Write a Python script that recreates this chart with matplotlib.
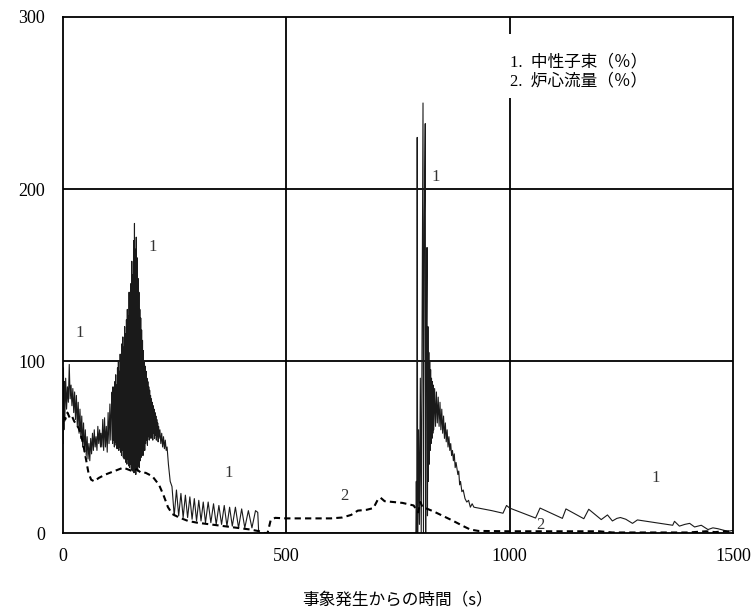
import matplotlib
matplotlib.use("Agg")
import matplotlib.pyplot as plt
from matplotlib.patches import Rectangle

# neutron flux (%): time (s), value
early_t = [0, 1, 2, 3, 4, 6, 8, 10, 12, 14, 16, 18, 20, 22, 24, 26, 28, 30, 32, 34,
           36, 38, 40, 42, 44, 46, 48, 50, 52, 54, 56, 58, 60, 62, 64, 66, 68, 70, 72, 74,
           76, 78, 80, 82, 84, 85, 87, 89, 91, 93, 95, 97, 99, 101, 103, 105, 107, 109]
early_v = [52, 96, 60, 88, 65, 90, 72, 85, 76, 98, 78, 86, 74, 84, 70, 82, 66, 80, 62, 76,
           58, 72, 55, 68, 50, 64, 47, 60, 45, 56, 43, 52, 42, 55, 46, 58, 48, 60, 50, 56,
           48, 62, 52, 60, 50, 58, 50, 66, 48, 67, 50, 62, 47, 70, 52, 75, 54, 80]

burst_t = [110, 111, 112, 113, 114, 115, 116, 117, 118, 119, 120, 121, 122, 123, 124,
           125, 126, 127, 128, 129, 130, 131, 132, 133, 134, 135, 136, 137, 138, 139,
           140, 141, 142, 143, 144, 145, 146, 147, 148, 149, 150, 151, 152, 153, 154,
           155, 156, 157, 158, 159, 160, 161, 162, 163, 164, 165, 166, 167, 168, 169,
           170, 171, 172, 173, 174, 175, 176, 177, 178, 179, 180, 181, 182, 183, 184,
           185, 186, 187, 188, 189, 190, 191, 192, 193, 194, 195, 196, 197, 198, 199,
           200, 201, 202, 203, 204, 205, 206, 207, 208, 209, 210, 211, 212, 213, 214,
           215, 217, 219, 221, 223, 225, 227, 229, 231, 233, 236, 240]
burst_v = [82, 52, 85, 54, 80, 50, 88, 53, 92, 51, 86, 49, 96, 52, 100,
           48, 94, 50, 104, 47, 100, 45, 110, 48, 114, 44, 108, 43, 120, 46,
           116, 41, 124, 40, 130, 43, 126, 39, 140, 38, 134, 40, 145, 37, 158,
           36, 150, 38, 170, 35, 180, 36, 165, 34, 172, 37, 160, 36, 148, 39,
           140, 38, 130, 42, 125, 44, 118, 47, 112, 45, 106, 50, 100, 48, 97,
           52, 94, 54, 90, 51, 88, 56, 85, 54, 83, 58, 80, 55, 78, 57,
           76, 54, 74, 58, 72, 55, 70, 57, 68, 54, 66, 56, 64, 53, 62,
           55, 60, 52, 58, 50, 56, 49, 54, 48, 50, 40, 30]

saw_t = [244, 249, 254, 259, 264, 269, 274, 279, 284, 289, 294, 299, 304, 309, 314, 319,
         325, 331, 337, 343, 349, 355, 361, 367, 373, 379, 386, 393, 400, 407, 415, 423,
         431, 436, 438, 442, 790]
saw_v = [27, 10, 25, 10, 23, 9, 22, 9, 21, 8, 20, 7, 19, 7, 18, 6,
         18, 6, 17, 5, 16, 5, 16, 4, 15, 4, 15, 3, 14, 3, 13, 3,
         13, 12, 1, 0, 0]

spike_t = [791, 792, 793, 794, 796, 798, 800, 802, 804, 806, 807, 809, 811, 812, 813,
           815, 816, 817, 818, 819, 820, 821, 822, 823, 824, 825, 826, 827, 828, 829,
           830, 832, 834, 836, 838, 840, 842, 844, 846, 848, 850, 852, 854, 856, 858,
           860, 862, 864, 866, 868, 870, 872, 874, 876, 878, 880, 884, 886, 888, 890,
           893, 896, 900, 904, 908, 912, 916, 920]
spike_v = [30, 0, 230, 0, 60, 5, 90, 0, 120, 250, 0, 180, 238, 0, 100,
           166, 10, 120, 30, 105, 40, 100, 48, 95, 52, 90, 55, 88, 58, 86,
           60, 84, 62, 82, 64, 79, 62, 76, 60, 72, 58, 68, 55, 64, 53,
           60, 50, 56, 48, 52, 45, 48, 42, 46, 38, 41, 34, 36, 28, 30,
           24, 25, 20, 18, 19, 15, 17, 15]

tail_t = [940, 960, 985, 993, 1000, 1058, 1068, 1118, 1126, 1166, 1177, 1205,
          1219, 1230, 1240, 1248, 1260, 1275, 1286, 1365, 1369, 1380, 1392, 1403, 1414,
          1429, 1444, 1455, 1466, 1488, 1500]
tail_v = [14, 13, 11.5, 16, 14.5, 8.7, 14.5, 8.5, 14, 8.3, 13.8, 7.8,
          10.5, 7, 8.5, 9, 8, 5.6, 7.6, 4.5, 6.8, 4, 5, 5.6, 3.5,
          4.5, 2, 3, 2.5, 1, 1.5]

# core flow (%)
flow_t = [0, 5, 10, 15, 20, 25, 30, 35, 40, 45, 50, 57, 63, 70, 80, 95, 105, 115, 125,
          135, 145, 155, 165, 175, 185, 200, 215, 225, 235, 245, 260, 280, 300, 330, 360,
          390, 420, 440, 450, 458, 465, 475, 500, 550, 600, 625, 645, 660, 680, 695, 705,
          711, 720, 740, 760, 785, 795, 800, 805, 816, 830, 850, 870, 885, 900, 912, 930,
          1000, 1100, 1200, 1230, 1300, 1400, 1440, 1460, 1480, 1500]
flow_v = [68, 66, 70, 67, 68, 65, 63, 61, 57, 52, 45, 35, 31, 30, 32, 34, 35, 36, 37,
          38, 37, 36, 37, 35, 35, 33, 28, 22, 15, 11, 9, 7, 6, 5, 4,
          3, 2, 1, 0, 0, 7.5, 8.8, 8.5, 8.5, 8.5, 9, 10.5, 13, 13.5, 14.5, 19.5,
          20.5, 18.5, 18, 17.5, 16, 12, 18, 15, 14, 12.5, 10, 7.5, 5.5, 3.5, 2, 1.2,
          1, 1, 1, 0.3, 0.3, 0.3, 1, 0.5, 1, 0.8]

# curve labels: text, time, value
label_txt = ["1", "1", "1", "1", "1", "2", "2"]
label_t = [38, 201, 370, 834, 1327, 630, 1069]
label_v = [116, 166, 35, 207, 32, 21.5, 4.6]

legend_txt = ["1.  中性子束（％）", "2.  炉心流量（％）"]

flux_t = early_t + burst_t + saw_t + spike_t + tail_t
flux_v = early_v + burst_v + saw_v + spike_v + tail_v

serif = ["Liberation Serif", "Noto Sans CJK JP"]
cjk = ["Noto Sans CJK JP", "DejaVu Sans"]

fig = plt.figure(figsize=(7.54, 6.14), dpi=100)
ax = fig.add_axes([63 / 754, 1 - 533 / 614, 670 / 754, 516 / 614])

for x in [500, 1000]:
    ax.axvline(x, color="black", lw=1.3, zorder=1)
for y in [100, 200]:
    ax.axhline(y, color="black", lw=1.3, zorder=1)

ax.plot(flux_t, flux_v, color="#1a1a1a", lw=0.8, zorder=2)
ax.plot(flow_t, flow_v, color="black", lw=1.5, ls=(0, (3, 2)), zorder=2)

for s, t, v in zip(label_txt, label_t, label_v):
    ax.text(t, v, s, family=serif, fontsize=12, color="#333333",
            ha="center", va="center", zorder=4)

# legend box covering the grid line
ax.add_patch(Rectangle((990, 253), 505, 37, facecolor="white",
                       edgecolor="none", zorder=3))
ax.text(1000, 273.5, legend_txt[0], family=serif, fontsize=12, va="center", zorder=4)
ax.text(1000, 262.5, legend_txt[1], family=serif, fontsize=12, va="center", zorder=4)

ax.set_xlim(0, 1500)
ax.set_ylim(0, 300)
ax.set_xticks([0, 500, 1000, 1500])
ax.set_yticks([0, 100, 200, 300])
ax.tick_params(length=0, labelsize=13)
ax.tick_params(axis="x", pad=11)
ax.tick_params(axis="y", pad=13)
for lab in ax.get_xticklabels() + ax.get_yticklabels():
    lab.set_family(serif)
for sp in ax.spines.values():
    sp.set_linewidth(1.3)

ax.set_xlabel("事象発生からの時間（s）", family=cjk, fontsize=12, va="center")
ax.xaxis.set_label_coords(0.5, -(600 - 533) / 516)

fig.savefig("out.png", dpi=100)
